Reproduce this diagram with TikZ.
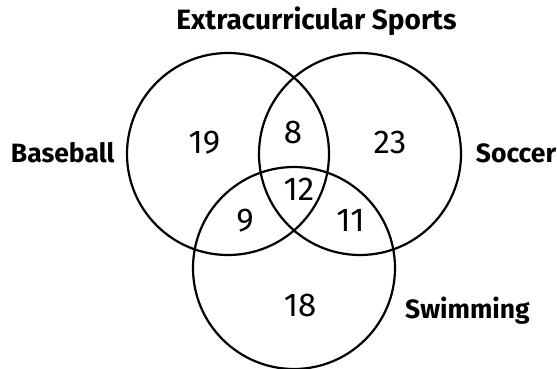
\documentclass[tikz,border=0pt]{standalone}
\usepackage{fontspec}
\setmainfont{Fira Sans}
\usepackage{tikz}
\usetikzlibrary{positioning}

\tikzset{
  setcircle/.style={line width=2.2pt},
  numlabel/.style={anchor=base, inner sep=0pt, font=\fontsize{33}{33}\selectfont},
  setlabel/.style={anchor=base, inner sep=0pt, font=\fontsize{26.5}{27}\selectfont\bfseries}
}

\begin{document}
\begin{tikzpicture}[x=1pt, y=-1pt]
        % Frame of the picture
        \useasboundingbox (0,0) rectangle (557,369);

        % Title
        \node[setlabel, font=\fontsize{28}{28}\selectfont\bfseries] (title) at (316.5, 29.3) {Extracurricular Sports};

        % The three circles
        \draw[setcircle] (228,154) circle[radius=101];
        \draw[setcircle] (360,154) circle[radius=101];
        \draw[setcircle] (294,268) circle[radius=101];

        % Set names
        \node[setlabel] (baseball) at (62.7, 162.3) {Baseball};
        \node[setlabel] (soccer) at (516, 162.3) {Soccer};
        \node[setlabel] (swimming) at (467.5, 318) {Swimming};

        % Counts in each region
        \node[numlabel] (onlybase) at (204.5, 153.3) {19};
        \node[numlabel] (basesoc) at (293, 143) {8};
        \node[numlabel] (onlysoc) at (390, 153.3) {23};
        \node[numlabel] (allthree) at (299, 200) {12};
        \node[numlabel] (baseswim) at (245, 231.7) {9};
        \node[numlabel] (socswim) at (350.5, 231.7) {11};
        \node[numlabel] (onlyswim) at (300, 316) {18};
\end{tikzpicture}
\end{document}
